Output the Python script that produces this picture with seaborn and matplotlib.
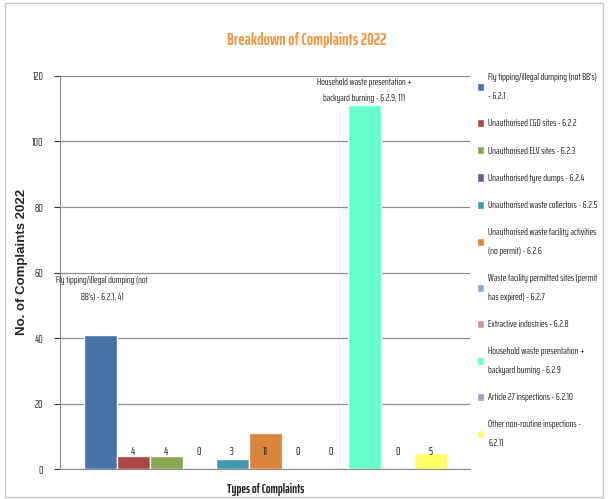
import pandas as pd
import seaborn as sns
import matplotlib.pyplot as plt
from matplotlib.patches import Rectangle

# Complaint types and counts
complaint_types = [
    "Fly tipping/illegal dumping (not BB's)\n- 6.2.1",
    "Unauthorised C&D sites - 6.2.2",
    "Unauthorised ELV sites - 6.2.3",
    "Unauthorised tyre dumps - 6.2.4",
    "Unauthorised waste collectors - 6.2.5",
    "Unauthorised waste facility activities\n(no permit) - 6.2.6",
    "Waste facility permitted sites (permit\nhas expired) - 6.2.7",
    "Extractive industries - 6.2.8",
    "Household waste presentation +\nbackyard burning - 6.2.9",
    "Article 27 inspections - 6.2.10",
    "Other non-routine inspections -\n6.2.11",
]
counts = [41, 4, 4, 0, 3, 11, 0, 0, 111, 0, 5]
colors = ["#4572A7", "#AA4643", "#89A54E", "#71588F", "#4198AF", "#DB843D",
          "#93A9CF", "#D19392", "#66FFCC", "#A99BBD", "#FFFF66"]

df = pd.DataFrame({"group": ["2022"] * len(counts), "type": complaint_types, "count": counts})

sns.set_style("white")
plt.rcParams["font.family"] = ["Saira ExtraCondensed", "DejaVu Sans"]

fig = plt.figure(figsize=(6.08, 4.99), dpi=100)
ax = fig.add_axes([0.0987, 0.0601, 0.675, 0.7876])

sns.barplot(data=df, x="group", y="count", hue="type", palette=colors,
            width=0.885, gap=0, saturation=1, ax=ax, legend=True)

ax.set_xlim(-0.5, 0.5)
ax.set_ylim(0, 120)
ax.set_yticks(range(0, 121, 20))
ax.yaxis.grid(True, color="#8c8c8c", linewidth=0.9)
ax.set_axisbelow(True)
ax.set_xticks([])
ax.tick_params(axis="y", labelsize=8, colors="#333333", length=4, pad=8,
               direction="out", left=True)
for s in ["top", "right"]:
    ax.spines[s].set_visible(False)
for s in ["left", "bottom"]:
    ax.spines[s].set_color("#8c8c8c")

# value labels, all sit at the same height just above the baseline
bars = ax.patches
for bar, v in zip(bars, counts):
    if v in (41, 111):
        continue
    cx = bar.get_x() + bar.get_width() / 2
    ax.text(cx, 5.3, str(v), ha="center", va="center", fontsize=8, color="#222222")

ax.text(bars[0].get_x() + bars[0].get_width() / 2 + 0.005, 55,
        "Fly tipping/illegal dumping (not\nBB's) - 6.2.1, 41",
        ha="center", va="center", fontsize=7, linespacing=2.0, color="#222222")
ax.text(bars[8].get_x() + bars[8].get_width() / 2, 115.5,
        "Household waste presentation +\nbackyard burning - 6.2.9, 111",
        ha="center", va="center", fontsize=7, linespacing=2.0, color="#222222")

ax.set_xlabel("Types of Complaints", fontsize=9, fontweight="bold", va="center")
ax.xaxis.set_label_coords(0.5, -0.053)
ax.set_ylabel("No. of Complaints 2022", fontsize=9.5, fontweight="bold",
              family=["Liberation Sans", "DejaVu Sans"])
ax.yaxis.set_label_coords(-0.078, 0.527)
fig.text(0.505, 0.92, "Breakdown of Complaints 2022", ha="center", va="center",
         fontsize=12, fontweight="bold", color="#F79646")

handles, labels = ax.get_legend_handles_labels()
ax.get_legend().remove()
leg = fig.legend(handles, labels, loc="upper left", bbox_to_anchor=(477 / 608, 1 - 73 / 499),
                 frameon=False, prop={"family": "Saira ExtraCondensed", "size": 7.1},
                 handlelength=0.75, handleheight=0.9, handletextpad=0.4,
                 labelspacing=1.8, borderpad=0, borderaxespad=0)
for t in leg.get_texts():
    t.set_linespacing(2.45)
    t.set_color("#222222")

fig.patches.append(Rectangle((0.008, 0.004), 0.984, 0.99, transform=fig.transFigure,
                             fill=False, edgecolor="#c8c8c8", linewidth=1))

fig.savefig("out.png", dpi=100)
